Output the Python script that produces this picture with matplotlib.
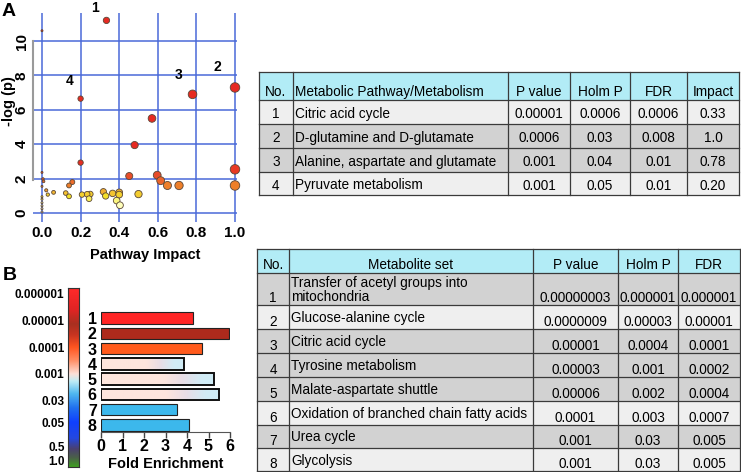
import matplotlib
matplotlib.use('Agg')
import matplotlib.pyplot as plt
import numpy as np
from matplotlib.colors import LinearSegmentedColormap, Normalize
from matplotlib.patches import Rectangle

plt.rcParams['font.family'] = ['Liberation Sans', 'DejaVu Sans']

# ---------- data: panel A scatter ----------
impact = [0.334, 0.0, 1.0, 0.78, 0.2, 0.57, 0.48, 0.2, 1.0, 0.452, 0.597, 0.615, 0.65,
          0.71, 1.0, 0.0, 0.005, 0.008, 0.0, 0.022, 0.03, 0.06, 0.14, 0.157, 0.123, 0.14,
          0.207, 0.234, 0.25, 0.244, 0.318, 0.33, 0.366, 0.4, 0.4, 0.387, 0.404, 0.5,
          0.0, 0.0, 0.0, 0.0, 0.0, 0.0]
neglogp = [11.2, 10.6, 7.3, 6.9, 6.65, 5.5, 3.95, 2.93, 2.54, 2.15, 2.2, 1.88, 1.6,
           1.6, 1.6, 2.36, 1.98, 1.84, 1.55, 1.32, 1.07, 1.2, 1.6, 1.8, 1.16, 0.97,
           1.07, 1.09, 1.1, 0.83, 1.24, 0.99, 1.14, 1.2, 1.07, 0.72, 0.45, 1.1,
           0.95, 0.8, 0.6, 0.42, 0.25, 0.06]
hit_labels = ["1", "2", "3", "4"]
hit_label_x = [0.275, 0.91, 0.71, 0.145]
hit_label_y = [11.9, 8.5, 8.0, 7.7]

# ---------- data: table A ----------
header_a = ["No.", "Metabolic Pathway/Metabolism", "P value", "Holm P", "FDR", "Impact"]
pathways = ["Citric acid cycle", "D-glutamine and D-glutamate",
            "Alanine, aspartate and glutamate", "Pyruvate metabolism"]
p_a = ["0.00001", "0.0006", "0.001", "0.001"]
holm_a = ["0.0006", "0.03", "0.04", "0.05"]
fdr_a = ["0.0006", "0.008", "0.01", "0.01"]
impact_a = ["0.33", "1.0", "0.78", "0.20"]

# ---------- data: panel B ----------
fold_enrichment = [4.29, 5.94, 4.70, 3.85, 5.26, 5.49, 3.52, 4.11]
set_numbers = ["1", "2", "3", "4", "5", "6", "7", "8"]
cbar_labels = ["0.000001", "0.00001", "0.0001", "0.001", "0.03", "0.05", "0.5", "1.0"]

header_b = ["No.", "Metabolite set", "P value", "Holm P", "FDR"]
metabolite_sets = ["Transfer of acetyl groups into\nmitochondria", "Glucose-alanine cycle",
                   "Citric acid cycle", "Tyrosine metabolism", "Malate-aspartate shuttle",
                   "Oxidation of branched chain fatty acids", "Urea cycle", "Glycolysis"]
p_b = ["0.00000003", "0.0000009", "0.00001", "0.00003", "0.00006", "0.0001", "0.001", "0.001"]
holm_b = ["0.000001", "0.00003", "0.0004", "0.001", "0.002", "0.003", "0.03", "0.03"]
fdr_b = ["0.000001", "0.00001", "0.0001", "0.0002", "0.0004", "0.0007", "0.005", "0.005"]

W, H = 741, 472
fig = plt.figure(figsize=(W / 100, H / 100), dpi=100)


def px_axes(left, top, right, bottom):
    return fig.add_axes([left / W, 1 - bottom / H, (right - left) / W, (bottom - top) / H])


# ---------- panel A: pathway impact scatter ----------
ax = px_axes(33, 13, 237, 222)
pcmap = LinearSegmentedColormap.from_list('pv', [
    (0, '#fffff2'), (0.2, '#ffffa8'), (0.32, '#f4e428'), (0.38, '#f3c431'),
    (0.43, '#f0a030'), (0.55, '#ee7a28'), (0.7, '#e8502a'), (0.85, '#e83a25'), (1, '#e62a22')])
x = np.array(impact)
y = np.array(neglogp)
sizes = ((2 + 7.5 * np.sqrt(x)) * 0.72) ** 2
order = np.argsort(-y)
ax.scatter(x[order], y[order], s=sizes[order], c=y[order], cmap=pcmap,
           norm=Normalize(0, 3), edgecolors='#5a4636', linewidths=0.6,
           zorder=3, clip_on=False)
for t, tx, ty in zip(hit_labels, hit_label_x, hit_label_y):
    ax.text(tx, ty, t, fontsize=10, fontweight='bold', ha='center', va='center',
            clip_on=False)
ax.set_xlim(-0.0466, 1.0104)
ax.set_ylim(-0.523, 11.63)
ax.set_xticks([0, 0.2, 0.4, 0.6, 0.8, 1.0])
ax.set_yticks([0, 2, 4, 6, 8, 10])
ax.set_xticklabels(['0.0', '0.2', '0.4', '0.6', '0.8', '1.0'], fontweight='bold', fontsize=11)
ax.set_yticklabels(['0', '2', '4', '6', '8', '10'], fontweight='bold', fontsize=11,
                   rotation=90, va='center')
ax.tick_params(length=0, pad=3)
ax.grid(True, color='#4a6ad8', lw=1.1)
ax.set_axisbelow(True)
for s in ['top', 'right', 'bottom']:
    ax.spines[s].set_visible(False)
ax.spines['left'].set_bounds(1.9, 10)
ax.spines['left'].set_color('#9a9a9a')
ax.spines['left'].set_linewidth(1.5)
ax.set_ylabel('-log (p)', fontsize=10.5, fontweight='bold', va='center')
ax.yaxis.set_label_coords(-0.118, 0.58)
ax.set_xlabel('Pathway Impact', fontsize=10.5, fontweight='bold')
ax.xaxis.set_label_coords(0.55, -0.124)

# ---------- panel B: colour scale ----------
cax = px_axes(68, 288, 79, 467)
cb_cmap = LinearSegmentedColormap.from_list('cb', [
    (0.0, '#3f9e22'), (0.05, '#4a6048'), (0.1, '#4a4070'), (0.16, '#2448e0'),
    (0.25, '#1040ff'), (0.33, '#2070f0'), (0.41, '#50b8f0'), (0.48, '#c0ecf5'),
    (0.52, '#fde0d8'), (0.6, '#ff8a60'), (0.67, '#ff5520'), (0.74, '#c83420'),
    (0.8, '#a83020'), (0.88, '#e02424'), (1.0, '#ff2a2a')])
cax.imshow(np.linspace(0, 1, 256)[:, None], cmap=cb_cmap, origin='lower',
           extent=(0, 1, 0, 1), aspect='auto')
cax.set_xticks([])
cax.set_yticks([0.972, 0.821, 0.665, 0.52, 0.369, 0.246, 0.117, 0.034])
cax.set_yticklabels(cbar_labels, fontsize=8.5, fontweight='bold')
cax.tick_params(length=0, pad=2.5)
for s in cax.spines.values():
    s.set_linewidth(0.8)
    s.set_color('#333333')

# ---------- panel B: fold enrichment bars ----------
bax = px_axes(101, 310, 230, 432)
bar_colors = ['#ff2525', '#ad2a1c', '#ff5a1c', None, None, None, '#3cb8ec', '#3cb8ec']
grad = LinearSegmentedColormap.from_list('g', [
    (0, '#fde5dd'), (0.55, '#fde5dd'), (0.72, '#e8dde6'), (0.88, '#d2ebf5'), (1, '#cfecf6')])
ypos = np.arange(1, len(fold_enrichment) + 1)
bh = 0.75
for yi, v, c in zip(ypos, fold_enrichment, bar_colors):
    if c is None:
        bax.imshow(np.linspace(0, 1, 200)[None, :], cmap=grad, aspect='auto',
                   extent=(0, v, yi + bh / 2, yi - bh / 2), zorder=1)
        bax.barh(yi, v, height=bh, fill=False, edgecolor='#111111', linewidth=1.4, zorder=2)
    else:
        bax.barh(yi, v, height=bh, color=c, edgecolor='#222222', linewidth=0.8, zorder=2)
bax.set_xlim(0, 6)
bax.set_ylim(8.46, 0.477)
bax.set_yticks(ypos)
bax.set_yticklabels(set_numbers, fontsize=11.5, fontweight='bold')
bax.set_xticks(range(7))
bax.set_xticklabels([str(i) for i in range(7)], fontsize=11.5, fontweight='bold')
bax.tick_params(axis='y', length=0, pad=3)
bax.tick_params(axis='x', length=4, width=1, color='#444444', pad=1)
for s in ['top', 'right', 'left']:
    bax.spines[s].set_visible(False)
bax.spines['bottom'].set_color('#555555')
bax.set_xlabel('Fold Enrichment', fontsize=10.5, fontweight='bold', labelpad=2)

# ---------- tables ----------
tax = fig.add_axes([0, 0, 1, 1])
tax.set_xlim(0, W)
tax.set_ylim(H, 0)
tax.axis('off')

LIGHT, GREY, CYAN, EDGE = '#efefef', '#d2d2d2', '#b2ecf6', '#3a3a3a'
FS = 9.8


def draw_table(cols, rows, header, data, row_colors, header_align, name_dy, num_dy):
    # header
    tax.add_patch(Rectangle((cols[0], rows[0]), cols[-1] - cols[0], rows[1] - rows[0],
                            facecolor=CYAN, edgecolor='none'))
    for j, h in enumerate(header):
        if header_align[j] == 'left':
            tx = cols[j] + 2
        else:
            tx = (cols[j] + cols[j + 1]) / 2
        tax.text(tx, rows[1] - 8, h, fontsize=FS, ha=header_align[j], va='center')
    # body
    for i, rec in enumerate(data):
        top, bot = rows[i + 1], rows[i + 2]
        tax.add_patch(Rectangle((cols[0], top), cols[-1] - cols[0], bot - top,
                                facecolor=row_colors[i], edgecolor='none'))
        for j, val in enumerate(rec):
            if j == 1:
                tax.text(cols[1] + 2, (top + bot) / 2 + name_dy(top, bot), val,
                         fontsize=FS, ha='left', va='center', linespacing=1.05)
            else:
                tax.text((cols[j] + cols[j + 1]) / 2, num_dy(top, bot), val,
                         fontsize=FS, ha='center', va='center')
    for yl in rows:
        tax.plot([cols[0], cols[-1]], [yl, yl], color=EDGE, lw=0.9)
    for xl in cols:
        tax.plot([xl, xl], [rows[0], rows[-1]], color=EDGE, lw=0.9)


cols_a = [259, 293, 508, 570, 630, 687, 739]
rows_a = [72, 100, 124, 148, 172, 195]
data_a = [[str(i + 1), pathways[i], p_a[i], holm_a[i], fdr_a[i], impact_a[i]]
          for i in range(len(pathways))]
draw_table(cols_a, rows_a, header_a, data_a, [LIGHT, GREY, GREY, LIGHT],
           ['center', 'left', 'center', 'center', 'center', 'center'],
           lambda t, b: 2, lambda t, b: (t + b) / 2 + 2)

cols_b = [257, 289, 533, 618, 678, 740]
rows_b = [249, 273, 305, 329, 353, 377, 401, 425, 448, 471]
data_b = [[str(i + 1), metabolite_sets[i], p_b[i], holm_b[i], fdr_b[i]]
          for i in range(len(metabolite_sets))]
draw_table(cols_b, rows_b, header_b, data_b,
           [GREY, LIGHT, GREY, GREY, GREY, LIGHT, GREY, LIGHT],
           ['center', 'center', 'center', 'center', 'center'],
           lambda t, b: 1, lambda t, b: b - 7)

# panel letters
fig.text(2 / W, 1 - 12 / H, 'A', fontsize=14, fontweight='bold', va='center', ha='left')
fig.text(3 / W, 1 - 276 / H, 'B', fontsize=14, fontweight='bold', va='center', ha='left')

fig.savefig('out.png', dpi=100)
